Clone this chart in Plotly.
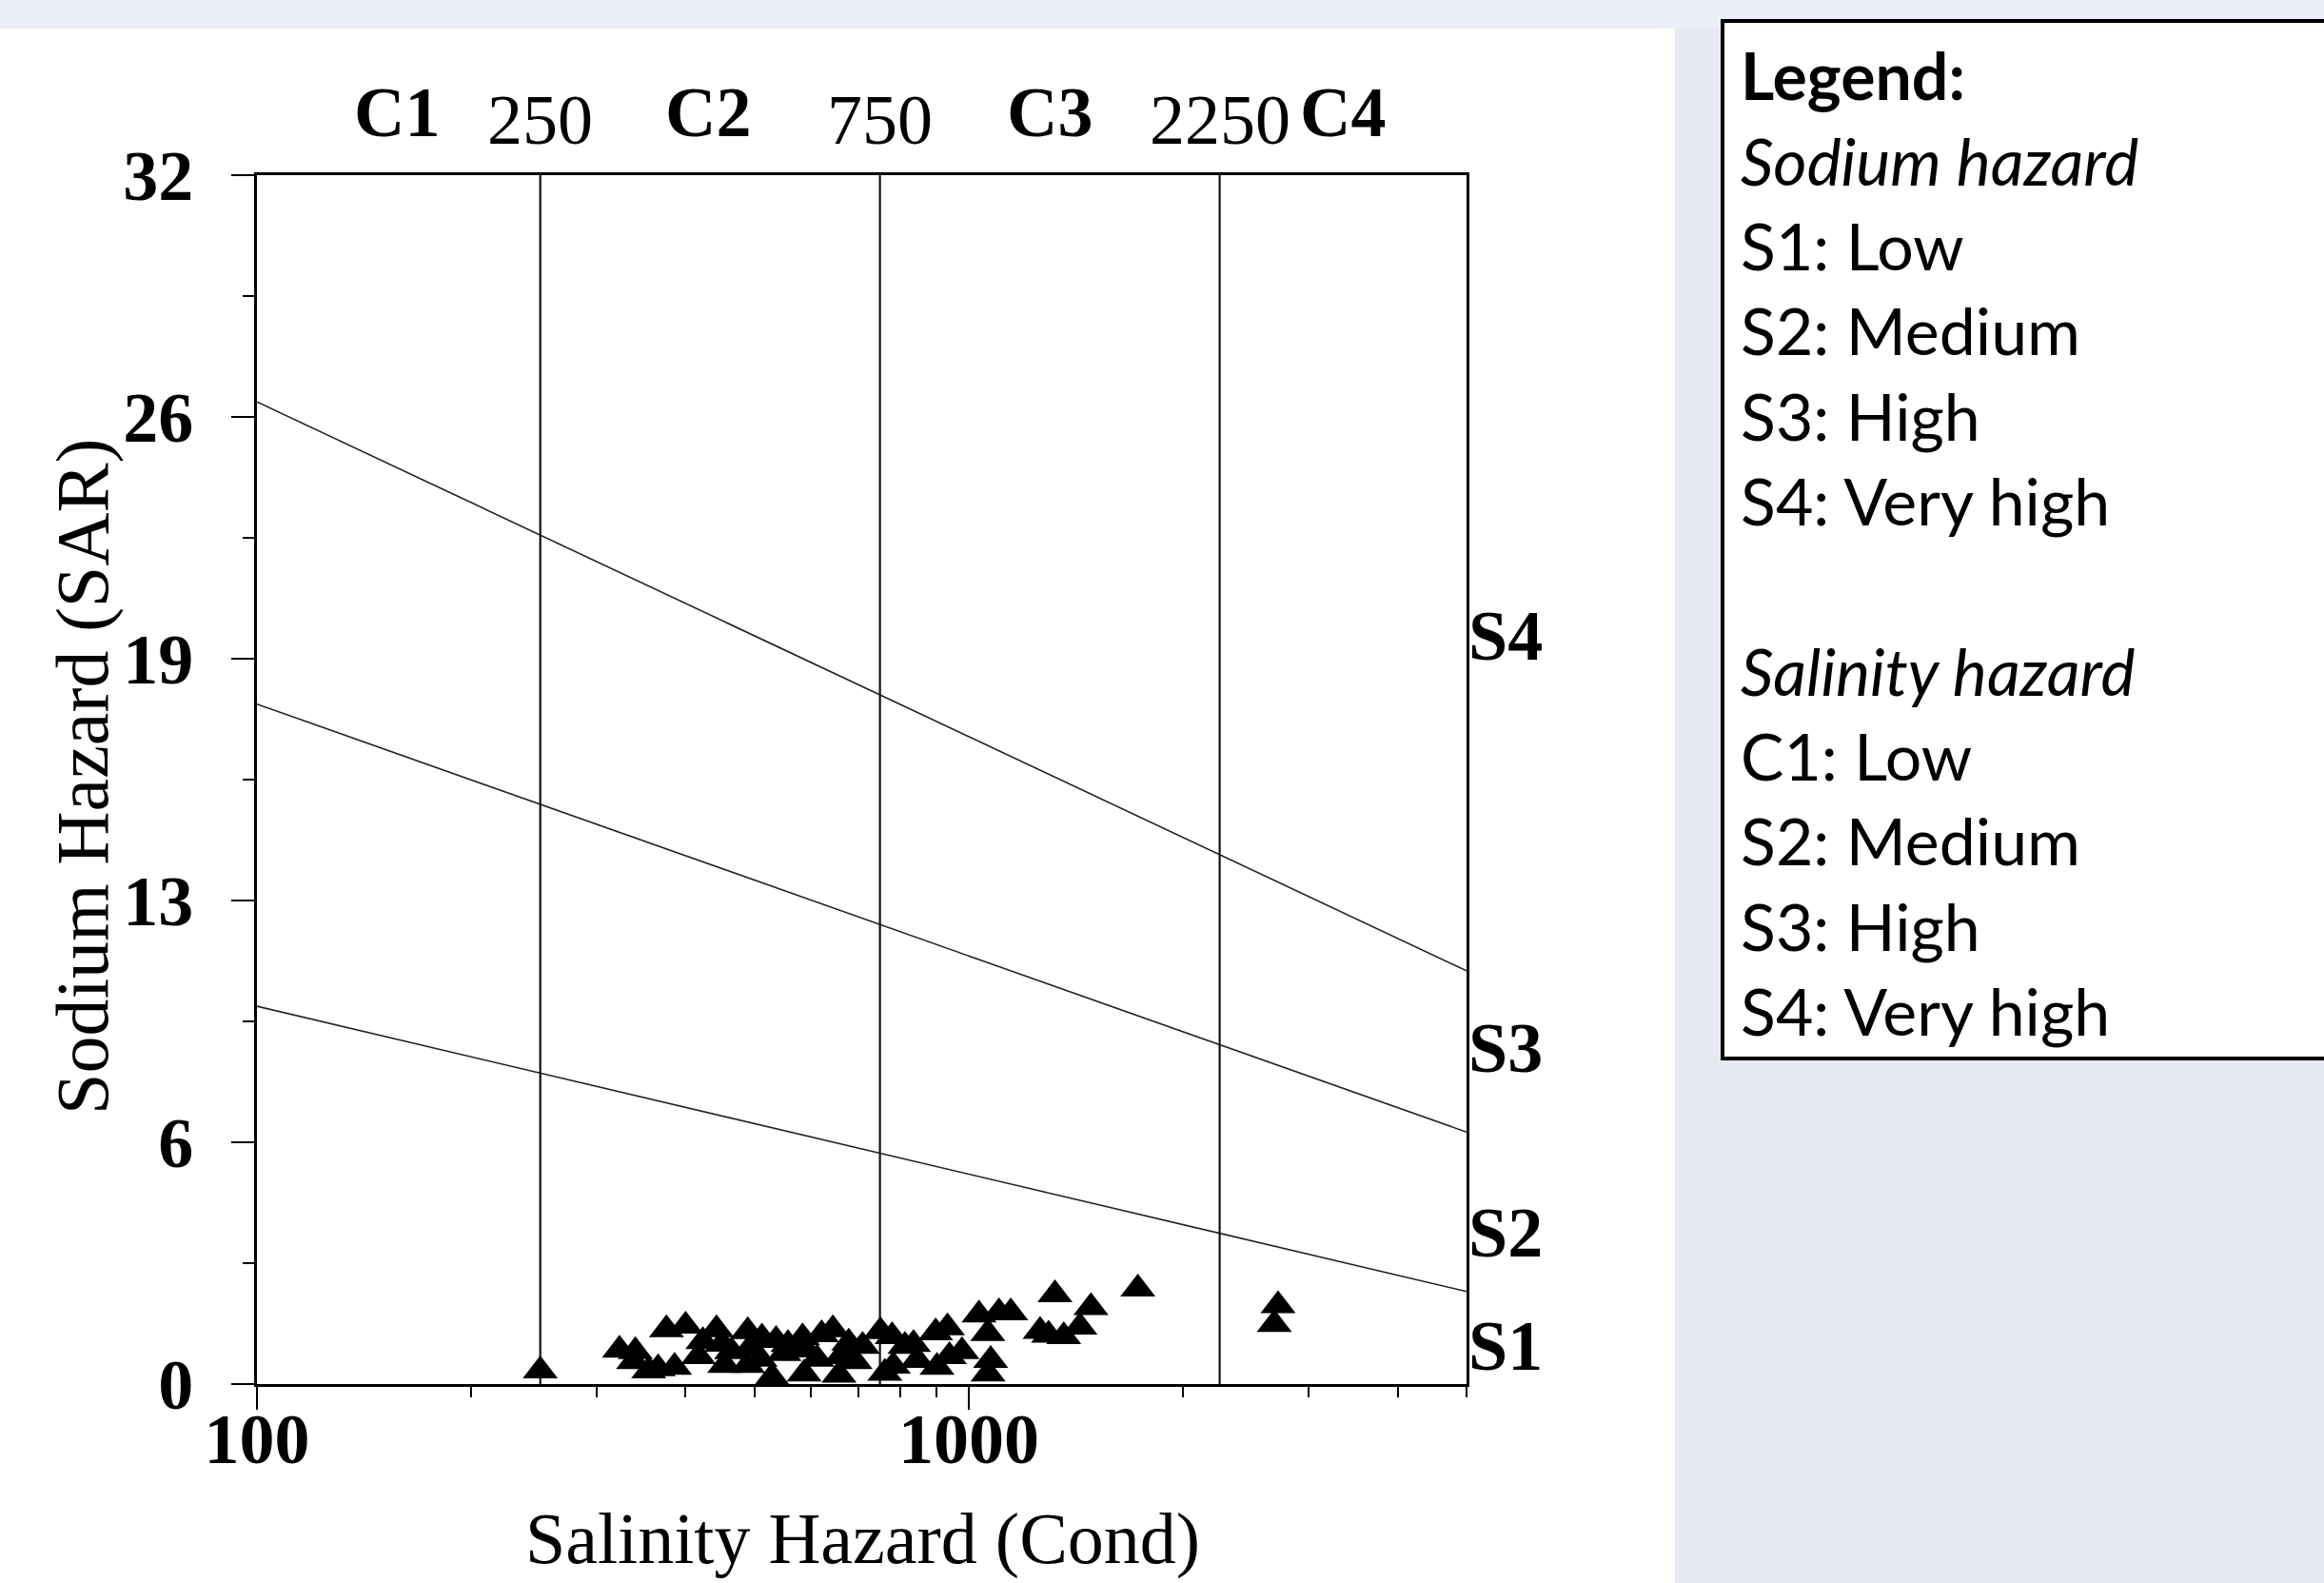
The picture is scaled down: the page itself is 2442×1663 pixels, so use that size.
import numpy as np
import plotly.graph_objects as go

# ---------------- data ----------------
ec = [250, 323, 340, 338, 355, 366, 376, 386, 400, 417, 423, 442, 450, 454, 464,
      489, 489, 494, 509, 512, 529, 536, 550, 557, 584, 587, 590, 612, 621, 644,
      657, 661, 678, 692, 709, 751, 762, 780, 783, 813, 836, 846, 898, 902, 933,
      939, 978, 1033, 1063, 1073, 1064, 1102, 1145, 1259, 1294, 1359, 1432, 1321,
      1484, 1727, 2718, 2685]
sar = [0.35, 0.90, 0.86, 0.60, 0.35, 0.41, 1.44, 0.45, 1.54, 0.73, 1.13, 1.44, 1.06, 0.50, 0.86,
       1.39, 0.50, 0.98, 0.66, 1.22, 0.18, 1.16, 0.81, 1.05, 1.23, 0.27, 0.91, 0.66, 1.31, 1.44,
       0.24, 0.73, 1.09, 0.60, 1.00, 1.39, 0.29, 1.26, 0.48, 1.00, 1.05, 0.63, 1.36, 0.45, 1.49,
       0.73, 0.86, 1.83, 1.34, 0.63, 0.27, 1.89, 1.89, 1.40, 1.30, 1.26, 1.51, 2.37,
       2.03, 2.52, 2.08, 1.58]

boundary_x = [100, 5000]
s1_s2 = [10.0, 2.45]
s2_s3 = [18.0, 6.67]
s3_s4 = [26.0, 10.94]

salinity_bounds = [250, 750, 2250]
salinity_classes = ["C1", "C2", "C3", "C4"]
salinity_class_x = [157, 430, 1300, 3350]

sodium_classes = ["S4", "S3", "S2", "S1"]
sodium_class_y = [19.8, 8.9, 4.0, 1.0]

y_tickvals = [0, 6.4, 12.8, 19.2, 25.6, 32]
y_ticktext = ["0", "6", "13", "19", "26", "32"]
y_minor = [3.2, 9.6, 16.0, 22.4, 28.8]
x_tickvals = [100, 1000]
x_ticktext = ["100", "1000"]
x_minor = [200, 300, 400, 500, 600, 700, 800, 900, 2000, 3000, 4000, 5000]

legend_lines = [
    ("Legend:", "bold", "normal"),
    ("Sodium hazard", "normal", "italic"),
    ("S1: Low", "normal", "normal"),
    ("S2: Medium", "normal", "normal"),
    ("S3: High", "normal", "normal"),
    ("S4: Very high", "normal", "normal"),
    ("", "normal", "normal"),
    ("Salinity hazard", "normal", "italic"),
    ("C1: Low", "normal", "normal"),
    ("S2: Medium", "normal", "normal"),
    ("S3: High", "normal", "normal"),
    ("S4: Very high", "normal", "normal"),
]

# ---------------- layout geometry ----------------
W, H = 2442, 1663
L, R, T, B = 270, 1541, 184, 1454


def px2x(px):
    return (px - L) / (R - L)


def py2y(py):
    return (B - py) / (B - T)


SERIF = "Liberation Serif, Times New Roman, serif"
SANS = "Lato, Open Sans, sans-serif"

fig = go.Figure()

# boundary lines
for ys in (s1_s2, s2_s3, s3_s4):
    fig.add_trace(go.Scatter(x=boundary_x, y=ys, mode="lines",
                             line=dict(color="#222", width=1.6),
                             showlegend=False, hoverinfo="skip"))

# vertical salinity boundaries
vx, vy = [], []
for b in salinity_bounds:
    vx += [b, b, None]
    vy += [0, 32, None]
fig.add_trace(go.Scatter(x=vx, y=vy, mode="lines", line=dict(color="#111", width=2.2),
                         showlegend=False, hoverinfo="skip"))

# samples
fig.add_trace(go.Scatter(x=ec, y=sar, mode="markers",
                         marker=dict(symbol="triangle-up", size=32, color="black",
                                     line=dict(width=0)),
                         showlegend=False))

annotations = []
# top labels
for lab, xv in zip(salinity_classes, salinity_class_x):
    annotations.append(dict(x=np.log10(xv), y=py2y(118), xref="x", yref="paper",
                            xanchor="center", yanchor="middle",
                            text=lab, showarrow=False,
                            font=dict(family=SERIF, size=74, color="black", weight="bold")))
for bv in salinity_bounds:
    annotations.append(dict(x=np.log10(bv), y=py2y(126), xref="x", yref="paper",
                            xanchor="center", yanchor="middle",
                            text=str(bv), showarrow=False,
                            font=dict(family=SERIF, size=74, color="black")))
# sodium class labels
for lab, yv in zip(sodium_classes, sodium_class_y):
    annotations.append(dict(x=1.0, y=yv, xref="paper", yref="y", xanchor="left",
                            yanchor="middle",
                            text=lab, showarrow=False,
                            font=dict(family=SERIF, size=74, color="black", weight="bold")))
# axis titles
annotations.append(dict(x=px2x(86), y=py2y(816), xref="paper", yref="paper",
                        xanchor="center", yanchor="middle",
                        text="Sodium Hazard (SAR)", textangle=-90, showarrow=False,
                        font=dict(family=SERIF, size=78, color="black")))
annotations.append(dict(x=px2x(906), y=py2y(1661), xref="paper", yref="paper",
                        xanchor="center", yanchor="bottom",
                        text="Salinity Hazard (Cond)", showarrow=False,
                        font=dict(family=SERIF, size=76, color="black")))
# legend text
y0, dy = 79, 89.3
for i, (txt, wt, st) in enumerate(legend_lines):
    if not txt:
        continue
    annotations.append(dict(x=px2x(1827), y=py2y(y0 + i * dy), xref="paper", yref="paper",
                            text=txt, showarrow=False, xanchor="left", yanchor="middle",
                            font=dict(family=SANS, size=68, color="black", weight=wt, style=st)))

shapes = [
    dict(type="rect", xref="paper", yref="paper", x0=px2x(-10), x1=px2x(W + 10),
         y0=py2y(-10), y1=py2y(30), fillcolor="#ECEFF7", line=dict(width=0), layer="below"),
    dict(type="rect", xref="paper", yref="paper", x0=px2x(1760), x1=px2x(W + 10),
         y0=py2y(30), y1=py2y(H + 10), fillcolor="#E6E9F2", line=dict(width=0), layer="below"),
    dict(type="rect", xref="paper", yref="paper", x0=px2x(1810), x1=px2x(W + 40),
         y0=py2y(1112), y1=py2y(22), fillcolor="white", line=dict(width=4, color="black"),
         layer="below"),
]

fig.update_layout(
    width=W, height=H,
    margin=dict(l=L, r=W - R, t=T, b=H - B, pad=0),
    paper_bgcolor="white", plot_bgcolor="white",
    showlegend=False,
    annotations=annotations, shapes=shapes,
    font=dict(family=SERIF, color="black"),
)
fig.update_xaxes(type="log", range=[2, np.log10(5000)],
                 tickmode="array", tickvals=x_tickvals, ticktext=x_ticktext,
                 ticks="outside", ticklen=24, tickwidth=2, tickcolor="black",
                 tickfont=dict(family=SERIF, size=74, color="black", weight="bold"),
                 ticklabelstandoff=-33,
                 minor=dict(tickmode="array", tickvals=x_minor, ticks="outside",
                            ticklen=11, tickwidth=2, tickcolor="black", showgrid=False),
                 showline=True, linecolor="black", linewidth=3, mirror=True,
                 showgrid=False, zeroline=False)
fig.update_yaxes(range=[0, 32],
                 tickmode="array", tickvals=y_tickvals, ticktext=y_ticktext,
                 ticks="outside", ticklen=24, tickwidth=2, tickcolor="black",
                 tickfont=dict(family=SERIF, size=74, color="black", weight="bold"),
                 ticklabelstandoff=25,
                 minor=dict(tickmode="array", tickvals=y_minor, ticks="outside",
                            ticklen=12, tickwidth=2, tickcolor="black", showgrid=False),
                 showline=True, linecolor="black", linewidth=3, mirror=True,
                 showgrid=False, zeroline=False)

fig.write_html("out.html", config={"displayModeBar": False},
               post_script="document.body.style.margin='0';document.body.style.overflow='hidden';")
